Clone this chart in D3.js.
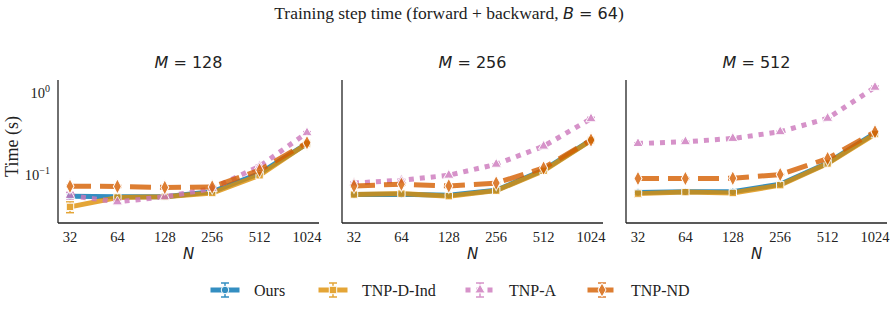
<!DOCTYPE html>
<html>
<head>
<meta charset="utf-8">
<script src="https://cdn.jsdelivr.net/npm/d3@7"></script>
<style>
  body { margin: 0; background: #fff; }
  svg text { fill: #222; }
</style>
</head>
<body>
<svg width="895" height="309"></svg>
<script>
const Ns = [32, 64, 128, 256, 512, 1024];
const Ms = [128, 256, 512];
const seriesNames = ["Ours", "TNP-D-Ind", "TNP-A", "TNP-ND"];

// time in seconds, one row per M panel
const ours = [
  [0.054, 0.053, 0.053, 0.061, 0.102, 0.235],
  [0.0565, 0.057, 0.0555, 0.0638, 0.112, 0.26],
  [0.0597, 0.061, 0.061, 0.0755, 0.137, 0.315]
];
const tnpDInd = [
  [0.040, 0.052, 0.053, 0.059, 0.097, 0.236],
  [0.0565, 0.058, 0.054, 0.063, 0.11, 0.258],
  [0.058, 0.0605, 0.059, 0.0735, 0.135, 0.308]
];
const tnpA = [
  [0.055, 0.046, 0.053, 0.067, 0.125, 0.319],
  [0.078, 0.0845, 0.097, 0.132, 0.219, 0.472],
  [0.236, 0.248, 0.272, 0.328, 0.478, 1.14]
];
const tnpND = [
  [0.0714, 0.071, 0.069, 0.070, 0.112, 0.241],
  [0.072, 0.0755, 0.072, 0.078, 0.119, 0.26],
  [0.0886, 0.0886, 0.089, 0.099, 0.155, 0.328]
];
// error bar half widths (s)
const oursErr = [[0.001,0.001,0.001,0.001,0.002,0.003],[0.001,0.002,0.001,0.001,0.002,0.003],[0.002,0.001,0.001,0.001,0.002,0.004]];
const tnpDIndErr = [[0.006,0.002,0.001,0.001,0.002,0.003],[0.001,0.002,0.001,0.001,0.002,0.003],[0.005,0.001,0.001,0.001,0.002,0.004]];
const tnpAErr = [[0.005,0.003,0.001,0.001,0.004,0.01],[0.002,0.002,0.002,0.002,0.005,0.02],[0.005,0.004,0.004,0.005,0.008,0.04]];
const tnpNDErr = [[0.002,0.002,0.001,0.001,0.003,0.004],[0.002,0.002,0.001,0.002,0.003,0.004],[0.002,0.002,0.002,0.002,0.003,0.006]];

const allData = [ours, tnpDInd, tnpA, tnpND];
const allErr = [oursErr, tnpDIndErr, tnpAErr, tnpNDErr];
const colors = ["#0173b2", "#de8f05", "#cc78bc", "#d55e00"];
const dashes = [null, null, "5,6", "21,9"];
const symbols = [d3.symbolCircle, d3.symbolSquare, d3.symbolTriangle, d3.symbolDiamond];
const symSize = [45, 55, 45, 55];
const lineW = 5;

const svg = d3.select("svg");
const serif = "'Liberation Serif', 'DejaVu Serif', serif";
const sans = "'DejaVu Sans', sans-serif";

const panelLeft = [58, 342, 626];
const panelW = 261;
const topY = 80, bottomY = 223;

svg.append("text")
  .attr("x", 449).attr("y", 19)
  .attr("text-anchor", "middle")
  .attr("font-family", serif).attr("font-size", 17.5)
  .html("Training step time (forward + backward, <tspan font-family=\"DejaVu Sans\" font-size=\"16\" font-style=\"italic\">B</tspan><tspan font-family=\"DejaVu Sans\" font-size=\"16\"> = 64</tspan>)");

const y = d3.scaleLog().domain([Math.pow(10, -1.594), Math.pow(10, 0.146)]).range([bottomY, topY]);

Ms.forEach((m, pi) => {
  const x0 = panelLeft[pi];
  const x = d3.scaleLog().base(2)
    .domain([Math.pow(2, 4.747), Math.pow(2, 10.253)])
    .range([x0, x0 + panelW]);
  const g = svg.append("g");

  // spines
  g.append("line").attr("x1", x0).attr("x2", x0).attr("y1", topY).attr("y2", bottomY)
    .attr("stroke", "#222").attr("stroke-width", 1.3);
  g.append("line").attr("x1", x0).attr("x2", x0 + panelW).attr("y1", bottomY).attr("y2", bottomY)
    .attr("stroke", "#222").attr("stroke-width", 1.3);

  // x tick labels
  g.selectAll(".xt").data(Ns).enter().append("text")
    .attr("x", d => x(d)).attr("y", 242)
    .attr("text-anchor", "middle")
    .attr("font-family", serif).attr("font-size", 14.5)
    .text(d => d);

  g.append("text").attr("x", x0 + panelW / 2).attr("y", 259)
    .attr("text-anchor", "middle")
    .attr("font-family", sans).attr("font-style", "italic").attr("font-size", 15)
    .text("N");

  g.append("text").attr("x", x0 + panelW / 2).attr("y", 68)
    .attr("text-anchor", "middle")
    .attr("font-family", sans).attr("font-size", 16)
    .html("<tspan font-style=\"italic\">M</tspan> = " + m);

  if (pi === 0) {
    [0, -1].forEach(e => {
      const t = g.append("text").attr("x", x0 - 8).attr("y", y(Math.pow(10, e)) + 6)
        .attr("text-anchor", "end")
        .attr("font-family", serif).attr("font-size", 14.5);
      t.append("tspan").text("10");
      t.append("tspan").attr("dy", -6).attr("font-size", 10).text(e === 0 ? "0" : "\u22121");
    });
    g.append("text")
      .attr("transform", `translate(18, ${(topY + bottomY) / 2 - 5}) rotate(-90)`)
      .attr("text-anchor", "middle")
      .attr("font-family", serif).attr("font-size", 18)
      .text("Time (s)");
  }

  const line = d3.line().x((d, i) => x(Ns[i])).y(d => y(d));

  allData.forEach((series, si) => {
    const vals = series[pi];
    const errs = allErr[si][pi];
    const sg = g.append("g").attr("opacity", 0.8);
    sg.append("path").datum(vals)
      .attr("d", line)
      .attr("fill", "none")
      .attr("stroke", colors[si])
      .attr("stroke-width", lineW)
      .attr("stroke-dasharray", dashes[si]);
    vals.forEach((v, i) => {
      const e = errs[i];
      const cx = x(Ns[i]);
      sg.append("line").attr("x1", cx).attr("x2", cx)
        .attr("y1", y(v - e)).attr("y2", y(v + e))
        .attr("stroke", colors[si]).attr("stroke-width", 1.5);
      [v - e, v + e].forEach(b => {
        sg.append("line").attr("x1", cx - 4).attr("x2", cx + 4)
          .attr("y1", y(b)).attr("y2", y(b))
          .attr("stroke", colors[si]).attr("stroke-width", 1.5);
      });
    });
    sg.selectAll(".mk").data(vals).enter().append("path")
      .attr("d", d3.symbol().type(symbols[si]).size(symSize[si]))
      .attr("transform", (d, i) => `translate(${x(Ns[i])},${y(d)})${si === 3 ? " scale(1,1.1)" : ""}`)
      .attr("fill", colors[si])
      .attr("stroke", "#fff").attr("stroke-width", 1);
  });
});

// legend
const legC = [225, 333, 480, 602];
const legY = 290;
seriesNames.forEach((name, si) => {
  const cx = legC[si];
  const lg = svg.append("g").attr("opacity", 0.8);
  lg.append("line").attr("x1", cx - 14.5).attr("x2", cx + 14.5).attr("y1", legY).attr("y2", legY)
    .attr("stroke", colors[si]).attr("stroke-width", lineW)
    .attr("stroke-dasharray", si === 2 ? "5,6" : si === 3 ? "11,4" : null);
  lg.append("line").attr("x1", cx).attr("x2", cx).attr("y1", legY - 7).attr("y2", legY + 7)
    .attr("stroke", colors[si]).attr("stroke-width", 1.5);
  [legY - 7, legY + 7].forEach(b => lg.append("line").attr("x1", cx - 4).attr("x2", cx + 4)
    .attr("y1", b).attr("y2", b).attr("stroke", colors[si]).attr("stroke-width", 1.5));
  lg.append("path")
    .attr("d", d3.symbol().type(symbols[si]).size(symSize[si]))
    .attr("transform", `translate(${cx},${legY})`)
    .attr("fill", colors[si]).attr("stroke", "#fff").attr("stroke-width", 1);
  svg.append("text").attr("x", cx + 29).attr("y", legY + 5.5)
    .attr("font-family", serif).attr("font-size", 16)
    .text(name);
});
</script>
</body>
</html>
